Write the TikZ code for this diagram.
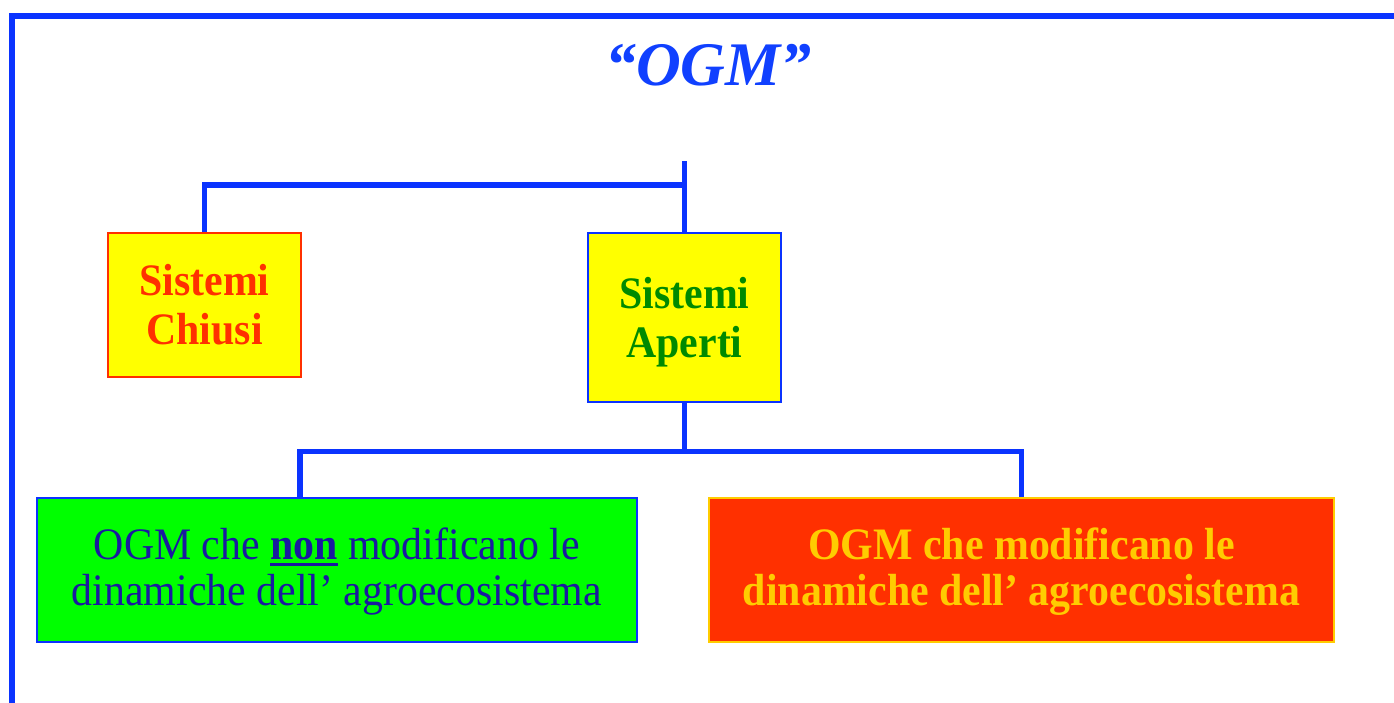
\documentclass[tikz,border=0pt]{standalone}
\usepackage{fontspec}
\setmainfont{Liberation Serif}
\newfontfamily\boxfont[FakeStretch=0.93]{Liberation Serif}
\usepackage{xcolor}
\usepackage{tikz}
\usetikzlibrary{positioning,calc}
\definecolor{cBlue}{HTML}{0A33FF}
\definecolor{cTitle}{HTML}{1040FF}
\definecolor{cRed}{HTML}{FF3000}
\definecolor{cYellow}{HTML}{FFFF00}
\definecolor{cGold}{HTML}{FFCC00}
\definecolor{cGreen}{HTML}{00FF00}
\definecolor{cLeaf}{HTML}{008A00}
\definecolor{cNavy}{HTML}{1A1AA0}
\newcommand{\ulbf}[1]{\setbox0\hbox{\bfseries #1}\rlap{\raisebox{-7pt}{\rule{\wd0}{3pt}}}\box0{}}
\tikzset{
  frame/.style={draw=cBlue,line width=6pt},
  link/.style={draw=cBlue,line width=5.5pt},
  sysbox/.style={draw=#1,fill=cYellow,line width=2pt,anchor=north west,align=center,inner sep=0pt,
    minimum width=193pt,font=\boxfont\fontsize{45}{49}\selectfont\bfseries},
  sysbox/.default=cBlue,
  ogmbox/.style={anchor=north west,align=center,inner sep=0pt,minimum height=144pt,line width=2pt,
    font=\boxfont\fontsize{45}{46}\selectfont},
}

\begin{document}
\begin{tikzpicture}[x=1pt,y=1pt]
    \useasboundingbox (0,0) rectangle (1394,-702);
    \draw[frame] (12,-720) -- (12,-16) -- (1410,-16);
    \node[anchor=base,font=\fontsize{62}{62}\selectfont\bfseries\itshape,text=cTitle] (title) at (708.5,-85) {“OGM”};
    \node[sysbox=cRed,minimum height=144pt,text=cRed]   (chiusi) at (107,-232) {Sistemi\\Chiusi};
    \node[sysbox=cBlue,minimum height=169pt,text=cLeaf] (aperti) at (587,-232) {\rule{0pt}{40pt}Sistemi\\Aperti};
    \node[ogmbox,draw=cBlue,fill=cGreen,text=cNavy,line width=1.5pt,minimum width=600pt] (green) at (36,-497)
      {\rule{0pt}{35pt}OGM che \ulbf{non} modificano le\\dinamiche dell’ agroecosistema};
    \node[ogmbox,draw=cGold,fill=cRed,text=cGold,minimum width=625pt,font=\boxfont\fontsize{45}{46}\selectfont\bfseries] (red) at (708,-497)
      {\rule{0pt}{35pt}OGM che modificano le\\dinamiche dell’ agroecosistema};
    % connectors
    \coordinate (root)  at ($(aperti.north)+(0,71)$);
    \coordinate (split) at ($(aperti.south)+(0,-48.5)$);
    \coordinate (gtap)  at ($(green.north west)+(264,0)$);
    \draw[link] (root) -- (aperti.north);
    \draw[link] (chiusi.north) |- ($(aperti.north)+(0,47)$);
    \draw[link] (aperti.south) -- (split);
    \draw[link] (gtap) |- (split) -| (red.north);
  \end{tikzpicture}
\end{document}
